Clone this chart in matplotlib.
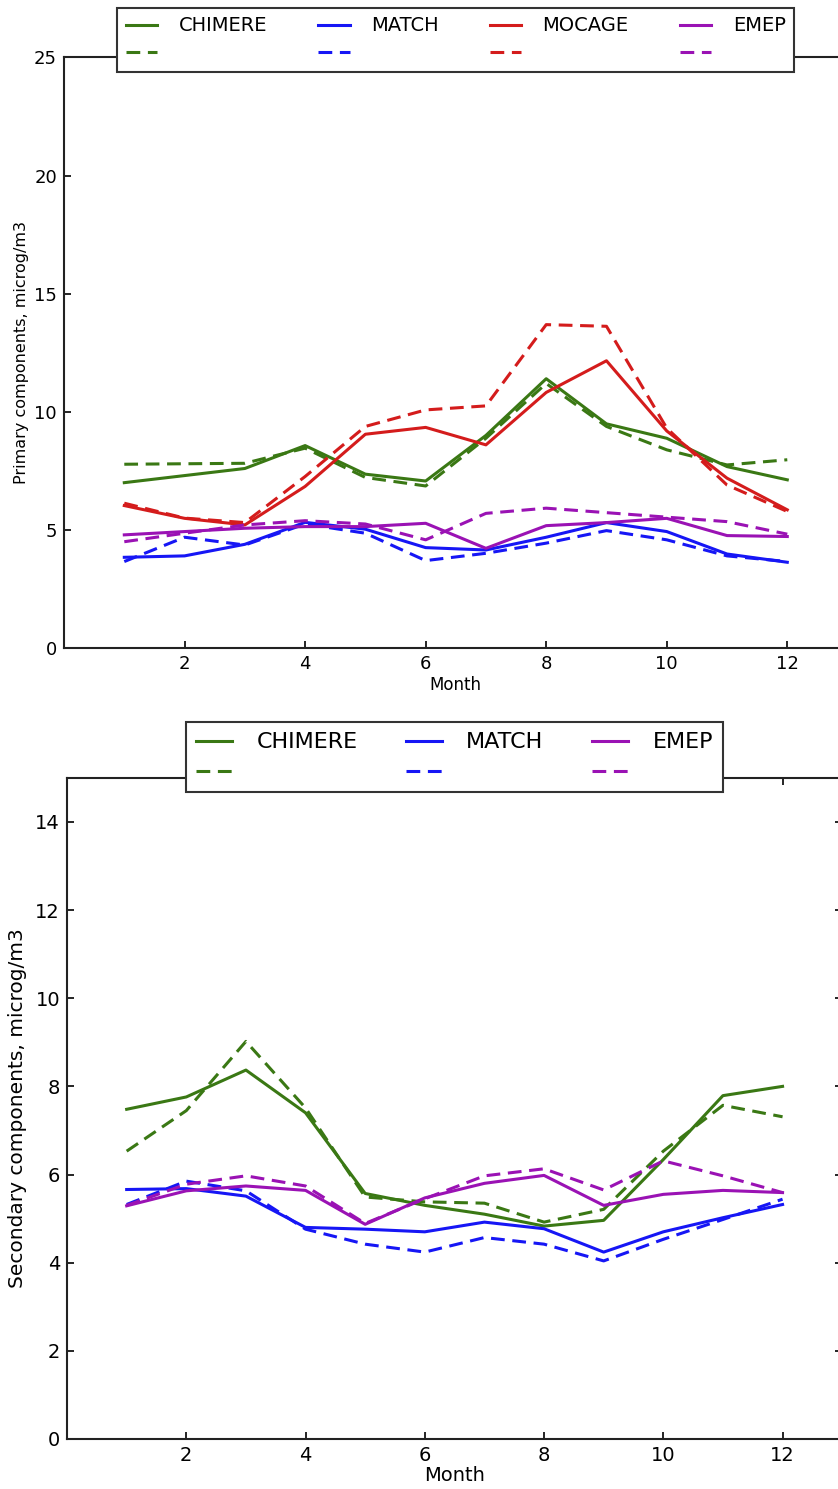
import matplotlib
matplotlib.use("Agg")
import matplotlib.pyplot as plt

months = [1, 2, 3, 4, 5, 6, 7, 8, 9, 10, 11, 12]

# primary components (solid = first run, dashed = second run)
prim_chimere = [7.0, 7.3, 7.6, 8.57, 7.36, 7.07, 9.0, 11.4, 9.49, 8.88, 7.68, 7.12]
prim_chimere_d = [7.78, 7.8, 7.82, 8.46, 7.22, 6.86, 8.88, 11.2, 9.38, 8.39, 7.75, 7.97]
prim_match = [3.84, 3.9, 4.39, 5.32, 5.03, 4.25, 4.15, 4.69, 5.31, 4.93, 3.98, 3.63]
prim_match_d = [3.66, 4.69, 4.36, 5.25, 4.86, 3.7, 4.01, 4.44, 4.97, 4.58, 3.9, 3.66]
prim_mocage = [6.03, 5.49, 5.21, 6.84, 9.05, 9.34, 8.6, 10.82, 12.16, 9.19, 7.19, 5.85]
prim_mocage_d = [6.13, 5.5, 5.31, 7.26, 9.38, 10.08, 10.25, 13.69, 13.62, 9.31, 6.9, 5.78]
prim_emep = [4.79, 4.93, 5.07, 5.14, 5.14, 5.28, 4.22, 5.18, 5.31, 5.49, 4.76, 4.72]
prim_emep_d = [4.5, 4.86, 5.21, 5.39, 5.25, 4.58, 5.7, 5.92, 5.73, 5.54, 5.35, 4.82]

# secondary components
sec_chimere = [7.48, 7.76, 8.37, 7.4, 5.57, 5.3, 5.1, 4.83, 4.96, 6.34, 7.79, 8.0]
sec_chimere_d = [6.53, 7.45, 9.02, 7.51, 5.49, 5.38, 5.35, 4.92, 5.21, 6.53, 7.57, 7.31]
sec_match = [5.66, 5.68, 5.51, 4.8, 4.76, 4.7, 4.92, 4.77, 4.24, 4.7, 5.02, 5.32]
sec_match_d = [5.32, 5.85, 5.63, 4.76, 4.42, 4.24, 4.57, 4.42, 4.04, 4.53, 4.98, 5.44]
sec_emep = [5.29, 5.63, 5.74, 5.64, 4.87, 5.47, 5.8, 5.98, 5.3, 5.55, 5.64, 5.59]
sec_emep_d = [5.3, 5.78, 5.97, 5.74, 4.89, 5.45, 5.97, 6.13, 5.65, 6.31, 5.97, 5.59]

GREEN = "#3a7814"
BLUE = "#1616f5"
RED = "#d41c1c"
PURPLE = "#9a12b4"
DASH = (4.5, 2.5)
LW = 2.2


def style_axes(ax, ymax, yticks, fs):
    ax.set_xlim(0, 13)
    ax.set_ylim(0, ymax)
    ax.set_xticks([2, 4, 6, 8, 10, 12])
    ax.set_yticks(yticks)
    ax.tick_params(direction="in", top=True, right=True, length=5, width=1.2,
                   labelsize=fs, pad=5)
    for s in ax.spines.values():
        s.set_linewidth(1.5)
        s.set_color("#222222")


def add_legend(ax, y, fs, spacing):
    leg = ax.legend(loc="center", bbox_to_anchor=(0.5, y), ncol=len(ax.get_lines()) // 2,
                    fontsize=fs, fancybox=False, framealpha=1, edgecolor="#333333",
                    handlelength=1.6, handletextpad=1.1, columnspacing=spacing,
                    labelspacing=0.45, borderpad=0.45)
    leg.get_frame().set_linewidth(1.5)
    leg.set_zorder(10)


fig = plt.figure(figsize=(8.38, 14.89), dpi=100)

ax1 = fig.add_axes([0.0764, 0.5648, 0.935, 0.3966])
for solid, dashed, c, name in [
    (prim_chimere, prim_chimere_d, GREEN, "CHIMERE"),
    (prim_match, prim_match_d, BLUE, "MATCH"),
    (prim_mocage, prim_mocage_d, RED, "MOCAGE"),
    (prim_emep, prim_emep_d, PURPLE, "EMEP"),
]:
    ax1.plot(months, solid, color=c, lw=LW, label=name)
    ax1.plot(months, dashed, color=c, lw=LW, dashes=DASH, label=" ")
style_axes(ax1, 25, [0, 5, 10, 15, 20, 25], 13)
ax1.set_xlabel("Month", fontsize=12, labelpad=2)
ax1.set_ylabel("Primary components, microg/m3", fontsize=11.5, labelpad=4)
add_legend(ax1, 1.03, 14, 2.65)

ax2 = fig.add_axes([0.080, 0.0336, 0.925, 0.444])
for solid, dashed, c, name in [
    (sec_chimere, sec_chimere_d, GREEN, "CHIMERE"),
    (sec_match, sec_match_d, BLUE, "MATCH"),
    (sec_emep, sec_emep_d, PURPLE, "EMEP"),
]:
    ax2.plot(months, solid, color=c, lw=LW, label=name)
    ax2.plot(months, dashed, color=c, lw=LW, dashes=DASH, label=" ")
style_axes(ax2, 15, [0, 2, 4, 6, 8, 10, 12, 14], 14)
ax2.set_xlabel("Month", fontsize=14, labelpad=1)
ax2.set_ylabel("Secondary components, microg/m3", fontsize=14.5, labelpad=6)
add_legend(ax2, 1.031, 16, 2.2)

fig.savefig("out.png", dpi=100)
